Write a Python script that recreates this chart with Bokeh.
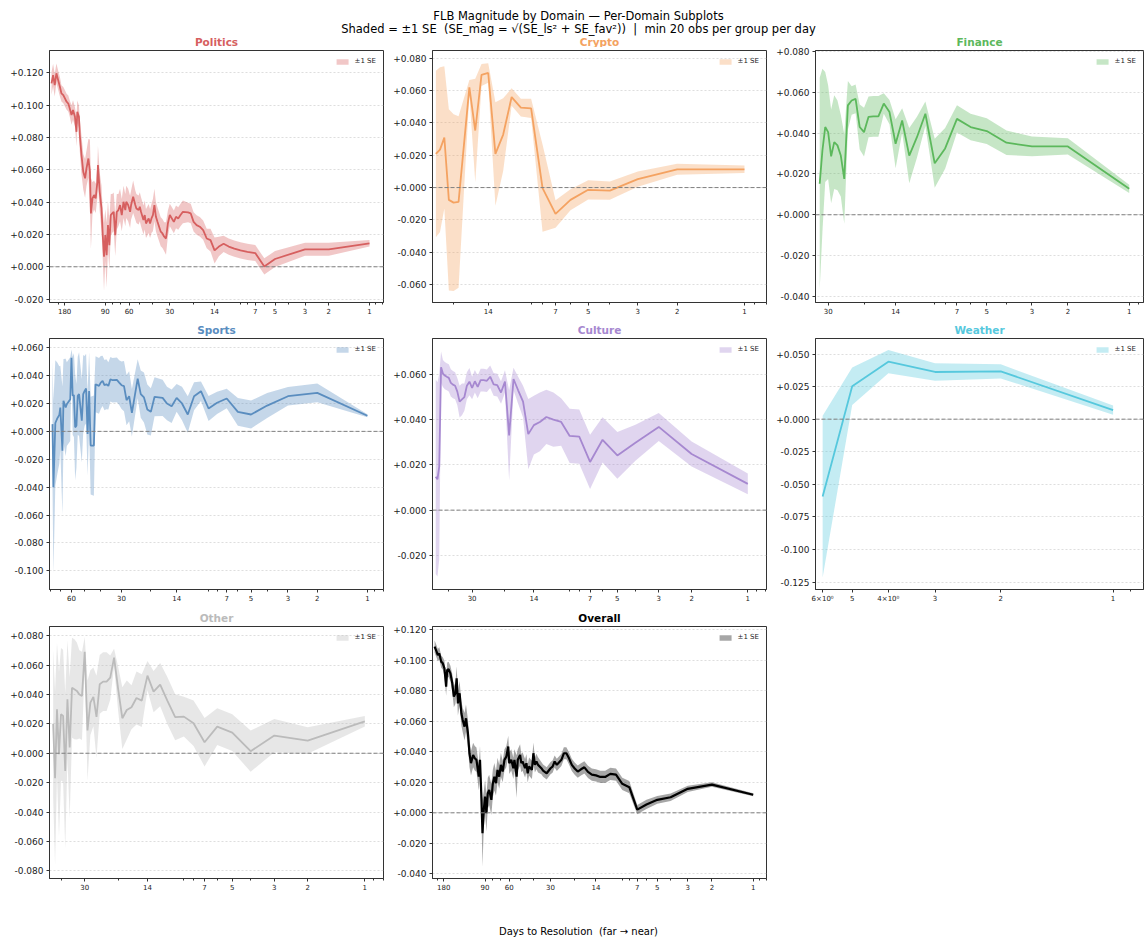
import numpy as np
from bokeh.plotting import figure
from bokeh.models import (Range1d, FixedTicker, SingleIntervalTicker,
                          CustomJSTickFormatter, Span)
from bokeh.layouts import column, row
from bokeh.embed import file_html
from bokeh.resources import INLINE
from bokeh.core.properties import value

FONT = "DejaVu Sans"

# ---------------------------------------------------------------------------
# FLB magnitude per day-to-resolution bucket: mean and ±1 SE for each domain
# ---------------------------------------------------------------------------
politics_days = [225, 219, 213, 207, 201, 195, 190, 184, 179, 174,
                 169, 165, 160, 156, 151, 147, 145, 141, 139, 135,
                 131, 127, 124, 120, 117, 115, 112, 109, 106, 103,
                 102, 99, 96, 94, 92, 90, 88, 86, 84, 82,
                 80, 78, 76, 74, 72, 70, 68, 66, 64, 63,
                 61, 59, 58, 56, 54, 53, 51, 50, 49, 47,
                 46, 45, 43, 42, 41, 40, 39, 38, 37, 36,
                 35, 34, 33, 32, 31, 30, 28, 27, 26, 25,
                 24, 22, 21, 20, 19, 18, 17, 16, 15, 14,
                 13, 12, 11, 10, 9, 8, 7, 6, 5, 3,
                 2, 1]
politics_mean = [0.1135, 0.1186, 0.1124, 0.1197, 0.1155, 0.1114, 0.1073, 0.1062, 0.1042, 0.1021,
                 0.1010, 0.0980, 0.0939, 0.0970, 0.0928, 0.0835, 0.0959, 0.0928, 0.0815, 0.0691,
                 0.0588, 0.0547, 0.0609, 0.0670, 0.0588, 0.0330, 0.0423, 0.0444, 0.0423, 0.0526,
                 0.0629, 0.0464, 0.0361, 0.0196, 0.0062, 0.0196, 0.0072, 0.0258, 0.0134, 0.0320,
                 0.0330, 0.0340, 0.0196, 0.0340, 0.0351, 0.0382, 0.0320, 0.0402, 0.0351, 0.0402,
                 0.0382, 0.0340, 0.0382, 0.0433, 0.0382, 0.0361, 0.0351, 0.0371, 0.0340, 0.0289,
                 0.0320, 0.0268, 0.0299, 0.0268, 0.0299, 0.0320, 0.0382, 0.0309, 0.0278, 0.0248,
                 0.0217, 0.0206, 0.0186, 0.0175, 0.0268, 0.0320, 0.0278, 0.0309, 0.0299, 0.0320,
                 0.0340, 0.0336, 0.0330, 0.0278, 0.0258, 0.0248, 0.0227, 0.0175, 0.0165, 0.0101,
                 0.0125, 0.0142, 0.0125, 0.0112, 0.0101, 0.0092, 0.0085, 0.0002, 0.0048, 0.0108,
                 0.0108, 0.0145]
politics_se = [0.007, 0.007, 0.007, 0.006, 0.006, 0.006, 0.005, 0.005, 0.005, 0.005,
               0.005, 0.005, 0.006, 0.006, 0.006, 0.009, 0.007, 0.007, 0.010, 0.012,
               0.011, 0.012, 0.011, 0.012, 0.020, 0.022, 0.010, 0.009, 0.009, 0.010,
               0.012, 0.012, 0.014, 0.015, 0.021, 0.016, 0.020, 0.015, 0.015, 0.013,
               0.012, 0.012, 0.013, 0.011, 0.010, 0.010, 0.010, 0.010, 0.010, 0.010,
               0.010, 0.010, 0.009, 0.010, 0.009, 0.009, 0.009, 0.009, 0.009, 0.009,
               0.009, 0.009, 0.009, 0.009, 0.009, 0.010, 0.010, 0.009, 0.009, 0.009,
               0.009, 0.009, 0.009, 0.010, 0.008, 0.007, 0.007, 0.007, 0.007, 0.007,
               0.007, 0.006, 0.006, 0.006, 0.006, 0.006, 0.006, 0.006, 0.007, 0.008,
               0.006, 0.005, 0.005, 0.005, 0.005, 0.005, 0.005, 0.005, 0.005, 0.004,
               0.004, 0.002]

crypto_days = [24, 23, 22, 21, 20, 19, 17, 16, 15, 14, 13, 12,
               11, 10, 9, 8, 7, 6, 5, 4, 3, 2, 1]
crypto_mean = [0.0208, 0.0235, 0.0310, -0.0076, -0.0093, -0.0089, 0.0620, 0.0353, 0.0697, 0.0709, 0.0208, 0.0328,
               0.0560, 0.0495, 0.0490, -0.0004, -0.0163, -0.0076, -0.0014, -0.0019, 0.0052, 0.0113, 0.0113]
crypto_se = [0.0515, 0.0510, 0.0440, 0.0560, 0.0547, 0.0530, 0.0045, 0.0320, 0.0068, 0.0060, 0.0320, 0.0225,
             0.0054, 0.0055, 0.0060, 0.0270, 0.0085, 0.0065, 0.0060, 0.0056, 0.0047, 0.0034, 0.0023]

finance_days = [33, 32, 31, 30, 29, 28, 27, 26, 25, 24, 23, 22, 21, 20, 19, 18, 17,
                16, 15, 14, 13, 12, 11, 10, 9, 8, 7, 6, 5, 4, 3, 2, 1]
finance_mean = [0.0152, 0.0315, 0.0430, 0.0405, 0.0286, 0.0356, 0.0340, 0.0290, 0.0176, 0.0536, 0.0560,
                0.0568, 0.0430, 0.0405, 0.0480, 0.0482, 0.0482, 0.0545, 0.0503, 0.0348, 0.0462, 0.0290,
                0.0380, 0.0495, 0.0252, 0.0325, 0.0470, 0.0430, 0.0410, 0.0353, 0.0335, 0.0335, 0.0127]
finance_se = [0.052, 0.040, 0.027, 0.023, 0.023, 0.023, 0.022, 0.020, 0.022, 0.012, 0.007,
              0.007, 0.011, 0.012, 0.010, 0.010, 0.010, 0.005, 0.006, 0.012, 0.006, 0.0135,
              0.010, 0.006, 0.012, 0.010, 0.0067, 0.0065, 0.0063, 0.006, 0.0048, 0.004, 0.002]

sports_days = [78, 77, 75, 73, 71, 70, 68, 67, 65, 64,
               61, 60, 59, 58, 57, 56, 55, 54, 52, 51,
               50, 49, 48, 47, 46, 44, 43, 41, 40, 39,
               38, 37, 36, 35, 34, 32, 31, 30, 29, 28,
               27, 26, 24, 23, 22, 21, 20, 19, 17, 16,
               15, 14, 13, 12, 11, 10, 9, 8, 7, 6,
               5, 4, 3, 2, 1]
sports_mean = [0.0052, -0.0400, 0.0060, 0.0093, 0.0117, 0.0171, -0.0138, 0.0219, 0.0171, 0.0195,
               0.0231, 0.0528, 0.0255, 0.0260, 0.0029, 0.0040, 0.0255, 0.0267, 0.0076, 0.0267,
               0.0290, 0.0307, -0.0019, 0.0290, -0.0102, -0.0102, 0.0338, 0.0326, 0.0350, 0.0362,
               0.0331, 0.0338, 0.0326, 0.0374, 0.0367, 0.0369, 0.0350, 0.0331, 0.0324, 0.0224,
               0.0252, 0.0133, 0.0378, 0.0267, 0.0243, 0.0157, 0.0140, 0.0248, 0.0240, 0.0200,
               0.0180, 0.0240, 0.0200, 0.0121, 0.0252, 0.0288, 0.0164, 0.0205, 0.0236, 0.0140,
               0.0121, 0.0185, 0.0252, 0.0276, 0.0112]
sports_se = [0.045, 0.062, 0.045, 0.040, 0.035, 0.030, 0.046, 0.030, 0.035, 0.030,
             0.030, 0.006, 0.028, 0.030, 0.038, 0.030, 0.028, 0.030, 0.030, 0.028,
             0.025, 0.025, 0.030, 0.028, 0.035, 0.036, 0.020, 0.020, 0.019, 0.018,
             0.018, 0.018, 0.017, 0.016, 0.016, 0.016, 0.016, 0.017, 0.018, 0.018,
             0.018, 0.017, 0.014, 0.017, 0.018, 0.018, 0.017, 0.014, 0.013, 0.012,
             0.012, 0.010, 0.012, 0.013, 0.010, 0.007, 0.009, 0.008, 0.007, 0.010,
             0.010, 0.009, 0.0066, 0.0067, 0.001]

culture_days = [47, 46, 45, 44, 43, 42, 41, 40, 39, 38, 37, 36, 35, 34, 33, 32,
                31, 30, 29, 28, 27, 26, 25, 24, 23, 22, 21, 20, 19, 18, 17, 16,
                15, 14, 13, 12, 11, 10, 9, 8, 7, 6, 5, 4, 3, 2, 1]
culture_mean = [0.0148, 0.0136, 0.0192, 0.0632, 0.0604, 0.0595, 0.0590, 0.0585, 0.0563, 0.0555,
                0.0550, 0.0524, 0.0480, 0.0490, 0.0500, 0.0550, 0.0568, 0.0540, 0.0570, 0.0545,
                0.0575, 0.0575, 0.0572, 0.0590, 0.0556, 0.0553, 0.0520, 0.0569, 0.0330, 0.0580,
                0.0530, 0.0480, 0.0336, 0.0376, 0.0390, 0.0412, 0.0400, 0.0390, 0.0328, 0.0325,
                0.0213, 0.0311, 0.0242, 0.0298, 0.0368, 0.0248, 0.0116]
culture_se = [0.043, 0.043, 0.041, 0.007, 0.006, 0.006, 0.006, 0.006, 0.006, 0.006,
              0.006, 0.006, 0.007, 0.007, 0.006, 0.006, 0.006, 0.005, 0.005, 0.005,
              0.005, 0.005, 0.005, 0.005, 0.005, 0.005, 0.005, 0.005, 0.020, 0.005,
              0.006, 0.007, 0.0155, 0.013, 0.013, 0.012, 0.012, 0.0105, 0.012, 0.012,
              0.012, 0.010, 0.0103, 0.008, 0.0062, 0.0055, 0.0046]

weather_days = [6, 5, 4, 3, 2, 1]
weather_mean = [-0.0594, 0.0252, 0.0441, 0.0362, 0.0367, 0.0069]
weather_se = [0.062, 0.0144, 0.0089, 0.0068, 0.0054, 0.0036]

other_days = [44, 43, 42, 41, 40, 39, 38, 37, 36, 35, 34, 33, 32, 31, 30,
              29, 28, 27, 26, 25, 24, 23, 22, 21, 20, 19, 18, 17, 16, 15,
              14, 13, 12, 11, 10, 9, 8, 7, 6, 5, 4, 3, 2, 1]
other_mean = [0.0200, -0.0170, 0.0299, -0.0007, 0.0265, 0.0254, -0.0120, 0.0367, 0.0039, 0.0446,
              0.0435, 0.0424, 0.0400, 0.0390, 0.0690, 0.0155, 0.0344, 0.0383, 0.0247, 0.0469,
              0.0487, 0.0487, 0.0514, 0.0650, 0.0440, 0.0238, 0.0294, 0.0313, 0.0376, 0.0358,
              0.0528, 0.0419, 0.0467, 0.0358, 0.0245, 0.0249, 0.0204, 0.0075, 0.0181, 0.0140,
              0.0014, 0.0120, 0.0086, 0.0217]
other_se = [0.050, 0.059, 0.045, 0.056, 0.045, 0.045, 0.053, 0.040, 0.048, 0.034,
            0.034, 0.033, 0.030, 0.030, 0.010, 0.034, 0.022, 0.020, 0.028, 0.020,
            0.020, 0.020, 0.015, 0.006, 0.015, 0.021, 0.020, 0.015, 0.018, 0.018,
            0.010, 0.014, 0.0147, 0.016, 0.0156, 0.0136, 0.0155, 0.0165, 0.0125, 0.0125,
            0.014, 0.0113, 0.009, 0.0036]

overall_days = [210, 203, 199, 194, 188, 183, 178, 173, 170, 166,
                161, 156, 152, 148, 145, 142, 138, 134, 131, 127,
                124, 120, 117, 114, 110, 107, 104, 102, 100, 98,
                96, 94, 92, 90, 88, 86, 84, 81, 79, 77,
                75, 73, 71, 69, 67, 65, 63, 61, 60, 58,
                56, 55, 53, 52, 50, 49, 48, 46, 45, 44,
                43, 41, 40, 39, 38, 37, 35, 34, 32, 30,
                29, 28, 27, 25, 24, 23, 22, 21, 20, 19,
                18, 17, 16, 15, 14, 13, 12, 11, 10, 9,
                8, 7, 6, 5, 4, 3, 2, 1]
overall_mean = [0.1088, 0.1055, 0.1033, 0.1044, 0.0990, 0.0979, 0.0946, 0.0826, 0.0935, 0.0940,
                0.0913, 0.0848, 0.0761, 0.0783, 0.0880, 0.0717, 0.0783, 0.0652, 0.0608, 0.0564,
                0.0619, 0.0521, 0.0390, 0.0325, 0.0379, 0.0357, 0.0347, 0.0292, 0.0237, 0.0347,
                0.0129, -0.0133, 0.0019, 0.0107, -0.0002, 0.0129, 0.0150, 0.0085, 0.0194, 0.0237,
                0.0194, 0.0281, 0.0237, 0.0314, 0.0270, 0.0347, 0.0368, 0.0434, 0.0325, 0.0347,
                0.0292, 0.0347, 0.0237, 0.0347, 0.0379, 0.0325, 0.0336, 0.0292, 0.0325, 0.0259,
                0.0303, 0.0281, 0.0390, 0.0314, 0.0336, 0.0314, 0.0292, 0.0276, 0.0259, 0.0292,
                0.0303, 0.0336, 0.0314, 0.0347, 0.0390, 0.0390, 0.0357, 0.0314, 0.0290, 0.0270,
                0.0285, 0.0298, 0.0268, 0.0250, 0.0245, 0.0235, 0.0235, 0.0255, 0.0250, 0.0190,
                0.0168, 0.0021, 0.0055, 0.0085, 0.0102, 0.0157, 0.0185, 0.0118]
overall_se = [0.004, 0.004, 0.004, 0.004, 0.004, 0.004, 0.005, 0.006, 0.005, 0.005,
              0.005, 0.006, 0.007, 0.007, 0.008, 0.008, 0.008, 0.008, 0.008, 0.009,
              0.009, 0.009, 0.009, 0.008, 0.008, 0.008, 0.008, 0.008, 0.009, 0.009,
              0.010, 0.022, 0.012, 0.011, 0.012, 0.010, 0.010, 0.010, 0.009, 0.009,
              0.008, 0.008, 0.008, 0.008, 0.007, 0.007, 0.007, 0.007, 0.007, 0.007,
              0.007, 0.007, 0.014, 0.007, 0.007, 0.006, 0.006, 0.006, 0.006, 0.006,
              0.006, 0.006, 0.007, 0.005, 0.005, 0.005, 0.004, 0.004, 0.004, 0.004,
              0.004, 0.004, 0.004, 0.004, 0.004, 0.004, 0.004, 0.004, 0.004, 0.004,
              0.004, 0.004, 0.004, 0.004, 0.004, 0.004, 0.004, 0.004, 0.004, 0.004,
              0.004, 0.003, 0.003, 0.0025, 0.0025, 0.002, 0.0015, 0.001]

# labelled day ticks on the (reversed, log) x axes
major_days = [180, 90, 60, 30, 14, 7, 5, 3, 2, 1]

NB = "\u00a0"  # keeps doubled spaces from collapsing in the svg text
SUPTITLE_1 = "FLB Magnitude by Domain \u2014 Per-Domain Subplots"
SUPTITLE_2 = ("Shaded = \u00b11 SE" + NB + " (SE_mag = \u221a(SE_ls\u00b2 + SE_fav\u00b2))" + NB + " |"
              + NB + " min 20 obs per group per day")
XLABEL = "Days to Resolution" + NB + " (far \u2192 near)"

COLORS = {"Politics": "#d65f5f", "Crypto": "#f4a261", "Finance": "#5cb85c",
          "Sports": "#5a8dbf", "Culture": "#a688d0", "Weather": "#56c8dd",
          "Other": "#bbbbbb", "Overall": "#000000"}

FRAME_H = 252
BOTTOM = 15
TOP = 21
AXIS_COLOR = "#333333"
W1, W2, W3 = 384, 383, 377
LEFT1, LEFT2 = 49, 48
HEADER_H = 47


def log_minor_ticks(lo, hi, majors):
    ticks = []
    for e in range(-1, 4):
        for k in range(2, 10):
            v = round(k * 10.0 ** e, 6)
            if lo <= v <= hi and v not in majors:
                ticks.append(v)
    return ticks


def make_panel(name, days, mean, se, x_lim, y_lim, y_step, width, left,
               top=TOP, with_title=True, lw=1.8, band_alpha=0.35, extra_ticks=None):
    color = COLORS[name]
    lo, hi = min(x_lim), max(x_lim)
    p = figure(width=width, height=top + FRAME_H + BOTTOM, x_axis_type="log",
               x_range=Range1d(*x_lim), y_range=Range1d(*y_lim),
               title=name if with_title else None,
               output_backend="svg", toolbar_location=None,
               min_border_left=left, min_border_right=1,
               min_border_top=top, min_border_bottom=BOTTOM)

    d = np.asarray(days, dtype=float)
    m = np.asarray(mean, dtype=float)
    s = np.asarray(se, dtype=float)

    p.varea(x=d, y1=m - s, y2=m + s, fill_color=color, fill_alpha=band_alpha,
            legend_label="\u00b11 SE")
    p.line(d, m, line_color=color, line_width=lw)
    p.add_layout(Span(location=0, dimension="width", line_color="#808080",
                      line_dash="4 2", line_width=1))

    if with_title:
        p.title.align = "center"
        p.title.text_color = color
        p.title.text_font = FONT
        p.title.text_font_size = "10.5px"
        p.title.text_font_style = "bold"
        p.title.standoff = 6

    # x axis: log, far on the left
    extra = dict(extra_ticks or {})
    majors = [t for t in major_days if lo <= t <= hi]
    majors = sorted(set(majors) | set(extra), reverse=True)
    p.xaxis.ticker = FixedTicker(ticks=majors,
                                 minor_ticks=log_minor_ticks(lo, hi, majors))
    js = "".join(f"if (tick == {k}) return '{v}';\n" for k, v in extra.items())
    p.xaxis.formatter = CustomJSTickFormatter(code=js + "return String(tick);")
    p.xaxis.major_label_text_font_size = "7px"
    p.xaxis.major_label_standoff = 2

    # y axis: signed three-decimal labels
    p.yaxis.ticker = SingleIntervalTicker(interval=y_step, num_minor_ticks=0)
    p.yaxis.formatter = CustomJSTickFormatter(code="""
        const v = Math.abs(tick) < 1e-9 ? 0 : tick;
        return (v < 0 ? '-' : '+') + Math.abs(v).toFixed(3);
    """)
    p.yaxis.major_label_text_font_size = "9px"
    p.yaxis.major_label_standoff = 3

    for ax in (p.xaxis[0], p.yaxis[0]):
        ax.axis_line_color = AXIS_COLOR
        ax.major_tick_line_color = AXIS_COLOR
        ax.minor_tick_line_color = AXIS_COLOR
        ax.major_tick_in = 0
        ax.major_tick_out = 3
        ax.minor_tick_in = 0
        ax.minor_tick_out = 2
        ax.major_label_text_font = FONT
        ax.major_label_text_color = "#222222"

    p.xgrid.visible = False
    p.ygrid.grid_line_color = "#d0d0d0"
    p.ygrid.grid_line_dash = "2 2"
    p.ygrid.grid_line_width = 0.7

    p.outline_line_color = AXIS_COLOR
    p.outline_line_width = 1
    p.background_fill_color = "white"
    p.border_fill_color = "white"

    leg = p.legend[0]
    leg.location = "top_right"
    leg.label_text_font = FONT
    leg.label_text_font_size = "7px"
    leg.label_text_color = "#222222"
    leg.glyph_width = 15
    leg.glyph_height = 7
    leg.label_height = 7
    leg.label_standoff = 5
    leg.padding = 3
    leg.margin = 4
    leg.spacing = 0
    leg.border_line_alpha = 0
    leg.background_fill_alpha = 0
    return p


# first row: the titles live in the header strip directly above
politics = make_panel("Politics", politics_days, politics_mean, politics_se,
                      (232.8, 0.788), (-0.0221, 0.1338), 0.02, W1, LEFT1,
                      top=3, with_title=False)
crypto = make_panel("Crypto", crypto_days, crypto_mean, crypto_se,
                    (24.85, 0.797), (-0.0711, 0.0848), 0.02, W2, LEFT2,
                    top=3, with_title=False)
finance = make_panel("Finance", finance_days, finance_mean, finance_se,
                     (34.6, 0.851), (-0.0430, 0.0805), 0.02, W3, LEFT2,
                     top=3, with_title=False)
sports = make_panel("Sports", sports_days, sports_mean, sports_se,
                    (81.3, 0.80), (-0.1134, 0.0666), 0.02, W1, LEFT1)
culture = make_panel("Culture", culture_days, culture_mean, culture_se,
                     (48.9, 0.794), (-0.0351, 0.0759), 0.02, W2, LEFT2)
weather = make_panel("Weather", weather_days, weather_mean, weather_se,
                     (6.27, 0.829), (-0.1307, 0.0619), 0.025, W3, LEFT2,
                     extra_ticks={6: "6\u00d710\u2070", 4: "4\u00d710\u2070"})
other = make_panel("Other", other_days, other_mean, other_se,
                   (46.0, 0.797), (-0.0852, 0.0862), 0.02, W1, LEFT1)
overall = make_panel("Overall", overall_days, overall_mean, overall_se,
                     (217.5, 0.80), (-0.0430, 0.1220), 0.02, W2, LEFT2, lw=2.2)


def text_strip(height, items):
    t = figure(width=1144, height=height, x_range=Range1d(0, 1144),
               y_range=Range1d(0, height), output_backend="svg", title=None,
               toolbar_location=None, x_axis_location=None, y_axis_location=None,
               min_border=0)
    t.grid.visible = False
    t.outline_line_color = None
    for x, y, txt, size, color, style in items:
        t.text(x=[x], y=[y], text=[txt], text_align="center",
               text_baseline="middle", text_font=value(FONT),
               text_font_size=value(size), text_font_style=style,
               text_color=color)
    return t


# centres of the three column frames
col_mid = [LEFT1 + (W1 - LEFT1 - 1) / 2,
           W1 + LEFT2 + (W2 - LEFT2 - 1) / 2,
           W1 + W2 + LEFT2 + (W3 - LEFT2 - 1) / 2]

header = text_strip(HEADER_H, [
    (578, HEADER_H - 15.5, SUPTITLE_1, "11.5px", "#000000", "normal"),
    (578, HEADER_H - 28.5, SUPTITLE_2, "11.5px", "#000000", "normal"),
    (col_mid[0], HEADER_H - 41, "Politics", "10.5px", COLORS["Politics"], "bold"),
    (col_mid[1], HEADER_H - 41, "Crypto", "10.5px", COLORS["Crypto"], "bold"),
    (col_mid[2], HEADER_H - 41, "Finance", "10.5px", COLORS["Finance"], "bold"),
])
row1_h = 3 + FRAME_H + BOTTOM
row_h = TOP + FRAME_H + BOTTOM
footer_h = 938 - HEADER_H - row1_h - 2 * row_h
footer_top = 938 - footer_h
footer = text_strip(footer_h, [(578, footer_h - (931 - footer_top), XLABEL,
                                "10px", "#000000", "normal")])

layout = column(header,
                row(politics, crypto, finance),
                row(sports, culture, weather),
                row(other, overall),
                footer)

with open("out.html", "w") as f:
    f.write(file_html(layout, INLINE, "FLB Magnitude by Domain"))
